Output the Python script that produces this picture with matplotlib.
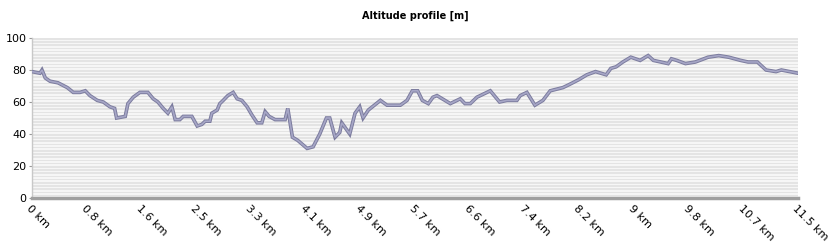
import matplotlib.pyplot as plt
import numpy as np

# distance along track [km] and altitude [m]
dist_km = [0.00, 0.12, 0.15, 0.20, 0.27, 0.39, 0.53, 0.62, 0.72, 0.80, 0.87, 0.98,
           1.07, 1.17, 1.24, 1.27, 1.40, 1.44, 1.52, 1.62, 1.74, 1.82, 1.89, 1.97,
           2.04, 2.10, 2.15, 2.22, 2.27, 2.40, 2.48, 2.55, 2.60, 2.67, 2.70, 2.78,
           2.82, 2.87, 2.94, 3.02, 3.08, 3.15, 3.23, 3.30, 3.38, 3.45, 3.50, 3.56,
           3.65, 3.80, 3.84, 3.91, 3.99, 4.13, 4.22, 4.32, 4.42, 4.47, 4.55, 4.62,
           4.65, 4.77, 4.85, 4.92, 4.97, 5.05, 5.23, 5.33, 5.53, 5.63, 5.71, 5.79,
           5.86, 5.95, 6.02, 6.08, 6.28, 6.43, 6.50, 6.58, 6.68, 6.88, 7.02, 7.13,
           7.28, 7.33, 7.43, 7.55, 7.67, 7.78, 7.97, 8.07, 8.21, 8.33, 8.46, 8.62,
           8.69, 8.77, 8.87, 8.99, 9.13, 9.25, 9.33, 9.55, 9.60, 9.68, 9.81, 9.96,
           10.15, 10.31, 10.46, 10.64, 10.75, 10.89, 11.02, 11.17, 11.25, 11.50]
alt_m = [79, 78, 80, 75, 73, 72, 69, 66, 66, 67, 64, 61,
         60, 57, 56, 50, 51, 59, 63, 66, 66, 62, 60, 56,
         53, 57, 49, 49, 51, 51, 45, 46, 48, 48, 53, 55,
         59, 61, 64, 66, 62, 61, 57, 52, 47, 47, 54, 51,
         49, 49, 56, 38, 36, 31, 32, 40, 50, 50, 38, 41,
         47, 40, 53, 57, 50, 55, 61, 58, 58, 61, 67, 67,
         61, 59, 63, 64, 59, 62, 59, 59, 63, 67, 60, 61,
         61, 64, 66, 58, 61, 67, 69, 71, 74, 77, 79, 77,
         81, 82, 85, 88, 86, 89, 86, 84, 87, 86, 84, 85,
         88, 89, 88, 86, 85, 85, 80, 79, 80, 78]

xtick_labels = ['0 km', '0.8 km', '1.6 km', '2.5 km', '3.3 km', '4.1 km', '4.9 km', '5.7 km',
                '6.6 km', '7.4 km', '8.2 km', '9 km', '9.8 km', '10.7 km', '11.5 km']
total_km = 11.5

fig = plt.figure(figsize=(8.31, 2.44), dpi=100)
ax = fig.add_axes([32 / 831, 1 - 198 / 244, 766 / 831, 160 / 244])

# striped background
ax.set_facecolor('#f6f6f6')
for k in range(0, 100, 2):
    ax.axhspan(k + 1, k + 2, color='#e4e4e4', lw=0, zorder=0)

ax.plot(dist_km, alt_m, color='#7c7c9e', lw=2.6, solid_joinstyle='miter', zorder=3)
ax.plot(dist_km, alt_m, color='#a6a6c6', lw=1.2, solid_joinstyle='miter', zorder=4)

ax.set_xlim(0, total_km)
ax.set_ylim(0, 100)
ax.set_yticks(np.arange(0, 101, 20))
ax.set_xticks(np.linspace(0, total_km, len(xtick_labels)))
ax.set_xticklabels(xtick_labels, rotation=-45, ha='left', va='top', rotation_mode='anchor')

ax.tick_params(axis='y', labelsize=8, length=2, color='#999999', pad=2)
ax.tick_params(axis='x', labelsize=8, length=0, pad=4)

for s in ['top', 'right']:
    ax.spines[s].set_visible(False)
ax.spines['bottom'].set_color('#a0a0a0')
ax.spines['bottom'].set_linewidth(2.5)
ax.spines['left'].set_color('#c8c8c8')
ax.spines['left'].set_linewidth(1.0)

fig.text(415 / 831, 1 - 16 / 244, 'Altitude profile [m]', ha='center', va='center',
         fontsize=7, fontweight='bold')

fig.savefig('out.png', dpi=100)
